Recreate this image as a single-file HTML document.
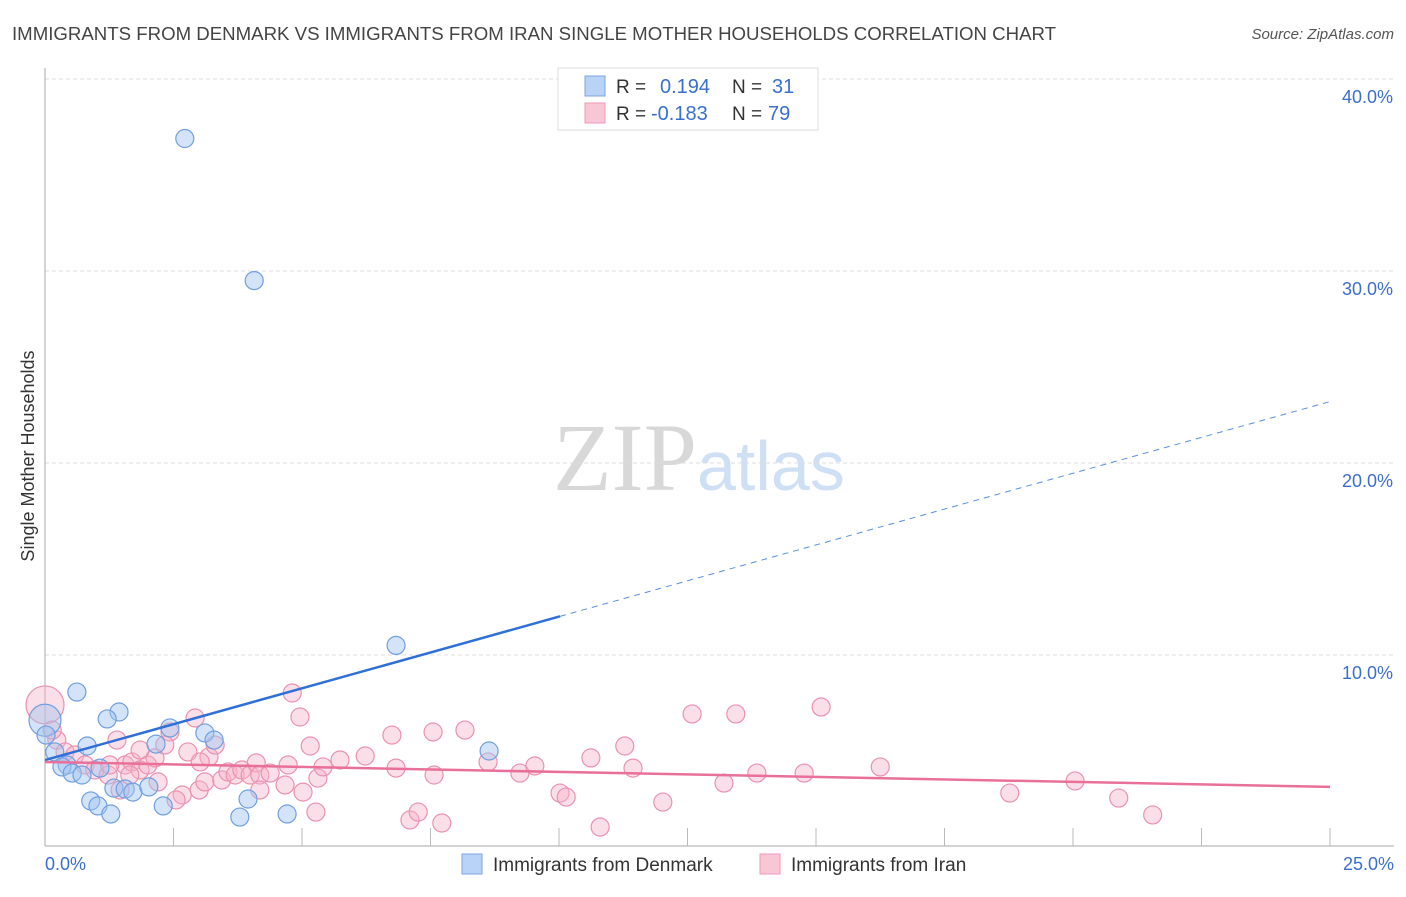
<!DOCTYPE html>
<html><head><meta charset="utf-8"><style>
body{margin:0;background:#fff;font-family:"Liberation Sans",sans-serif;}
</style></head><body>
<svg id="c" width="1406" height="892" xmlns="http://www.w3.org/2000/svg">
<text x="12" y="40" font-size="18" fill="#444" textLength="1044" lengthAdjust="spacingAndGlyphs">IMMIGRANTS FROM DENMARK VS IMMIGRANTS FROM IRAN SINGLE MOTHER HOUSEHOLDS CORRELATION CHART</text>
<text x="1394" y="39" font-size="15" fill="#555" font-style="italic" text-anchor="end">Source: ZipAtlas.com</text>
<text x="0" y="0" transform="translate(34,456) rotate(-90)" font-size="18" fill="#333" text-anchor="middle">Single Mother Households</text>
<text x="553" y="490" font-size="96" fill="#ddd" font-family="Liberation Serif,serif"><tspan fill="#d8d8d8">ZIP</tspan><tspan fill="#cfe0f4" font-family="Liberation Sans,sans-serif" font-size="70">atlas</tspan></text>
<g id="grid"></g><g id="marks"></g>
<g>
<rect x="558" y="68" width="260" height="62" fill="#fff" stroke="#ddd"/>
<rect x="585" y="76" width="20" height="20" fill="#b8d3f5" stroke="#7aa5e0"/>
<rect x="585" y="103" width="20" height="20" fill="#f9c6d5" stroke="#ee9ab5"/>
<text x="616" y="93" font-size="19" fill="#333">R = <tspan fill="#3a6fd0" x="660" font-size="20">0.194</tspan><tspan fill="#333" x="732">N = </tspan><tspan fill="#3a6fd0" x="772" font-size="20">31</tspan></text>
<text x="616" y="120" font-size="19" fill="#333">R = <tspan fill="#3a6fd0" x="651" font-size="20">-0.183</tspan><tspan fill="#333" x="732">N = </tspan><tspan fill="#3a6fd0" x="768" font-size="20">79</tspan></text>
</g>
<g>
<rect x="462" y="854" width="20" height="20" fill="#b8d3f5" stroke="#7aa5e0"/>
<text x="493" y="871" font-size="19" fill="#333">Immigrants from Denmark</text>
<rect x="760" y="854" width="20" height="20" fill="#f9c6d5" stroke="#ee9ab5"/>
<text x="791" y="871" font-size="19" fill="#333">Immigrants from Iran</text>
</g>
<text x="45" y="870" font-size="18" fill="#3a6fd0">0.0%</text>
<text x="1394" y="870" font-size="18" fill="#3a6fd0" text-anchor="end">25.0%</text>
</svg>
<script>
const yTicks=[10,20,30,40];
const denX=[2.72,4.07,6.83,8.64,0.62,1.44,1.21,2.43,3.11,3.29,2.16,0.82,0,0.19,0.43,0.33,0.53,0.72,1.07,1.34,1.56,1.71,2.02,0.89,1.03,1.28,2.30,3.95,3.79,4.71,0.02];
const denY=[36.9,29.5,10.5,5.0,8.07,7.03,6.67,6.2,5.94,5.57,5.36,5.26,6.6,4.95,4.27,4.17,3.85,3.75,4.11,3.07,3.02,2.86,3.13,2.4,2.14,1.72,2.14,2.5,1.56,1.72,5.83];
const denBig=[12];
const iranX=[0,0.23,0.14,0.39,0.58,0.78,0.97,1.23,1.40,1.56,1.69,1.85,2.00,2.14,2.20,2.43,2.33,2.78,2.92,2.67,2.55,3.00,3.11,3.19,3.31,3.44,3.56,3.70,3.83,3.99,4.11,4.18,4.38,4.67,4.81,4.96,5.16,5.31,5.41,5.27,5.02,6.23,6.75,6.83,7.55,7.57,8.17,8.62,9.24,9.53,10.02,10.14,10.62,10.80,11.28,11.44,7.10,7.26,7.72,12.02,12.59,13.21,13.44,13.85,14.77,15.10,16.25,18.77,20.04,20.89,21.55,1.85,1.46,1.26,1.65,3.02,4.18,4.73,5.74];
const iranY=[7.4,5.57,6.09,4.95,4.79,4.27,4.01,3.75,5.57,4.27,4.43,4.01,4.27,4.64,3.39,5.99,5.31,4.95,6.72,2.71,2.45,2.97,3.39,4.69,5.31,3.49,3.91,3.75,4.01,3.75,4.38,3.75,3.85,3.23,8.02,6.77,5.26,3.59,4.17,1.82,2.86,4.74,5.83,4.11,5.99,3.75,6.09,4.43,3.85,4.22,2.81,2.60,4.64,1.04,5.26,4.11,1.41,1.82,1.25,2.34,6.93,3.33,6.93,3.85,3.85,7.29,4.17,2.81,3.44,2.55,1.67,5.05,2.97,4.27,3.75,4.43,2.97,4.27,4.53];
const iranBig=[0];
const denTrend=[4.53,23.2]; const denSolidEnd=10.02;
const iranTrend=[4.43,3.13];
const NS='http://www.w3.org/2000/svg';
const X=v=>45+v/25*1285, Y=v=>847-v*19.2;
function mk(t,a,p){const e=document.createElementNS(NS,t);for(const k in a)e.setAttribute(k,a[k]);p.appendChild(e);return e;}
const g=document.getElementById('grid'), m=document.getElementById('marks');
yTicks.forEach(t=>{
 const l=mk('line',{x1:45,x2:1394,y1:Y(t),y2:Y(t),stroke:'#ddd','stroke-dasharray':'4,3'},g);
 
 
 const tx=mk('text',{x:1393,y:Y(t)+24,'font-size':18,fill:'#3a6fd0','text-anchor':'end'},g);tx.textContent=t.toFixed(1)+'%';
 
 
});
mk('line',{x1:45,x2:45,y1:68,y2:846,stroke:'#aaa'},g);
mk('line',{x1:45,x2:1394,y1:846,y2:846,stroke:'#aaa'},g);
for(let i=1;i<=10;i++){mk('line',{x1:45+i*128.5,x2:45+i*128.5,y1:828,y2:846,stroke:'#bbb'},g);}
function dots(xs,ys,big,fill,stroke,name,br){xs.forEach((x,i)=>{
 const c=mk('circle',{cx:X(x),cy:Y(ys[i]),r:big.includes(i)?br:9,fill:fill,stroke:stroke,'stroke-width':1.2},m);
 
 
});}
dots(iranX,iranY,iranBig,'rgba(246,178,200,0.42)','#ea92ae','iran-point',19);
dots(denX,denY,denBig,'rgba(160,195,240,0.45)','#6f9fe0','denmark-point',16);
const sl=x=>denTrend[0]+(denTrend[1]-denTrend[0])*x/25;
let t1=mk('line',{x1:X(0),y1:Y(sl(0)),x2:X(denSolidEnd),y2:Y(sl(denSolidEnd)),stroke:'#2f6fd8','stroke-width':2.5},m);


let t2=mk('line',{x1:X(denSolidEnd),y1:Y(sl(denSolidEnd)),x2:X(25),y2:Y(sl(25)),stroke:'#5a8fe0','stroke-width':1,'stroke-dasharray':'6,5'},m);


let t3=mk('line',{x1:X(0),y1:Y(iranTrend[0]),x2:X(25),y2:Y(iranTrend[1]),stroke:'#e8709a','stroke-width':2.5},m);


</script>
</body></html>
